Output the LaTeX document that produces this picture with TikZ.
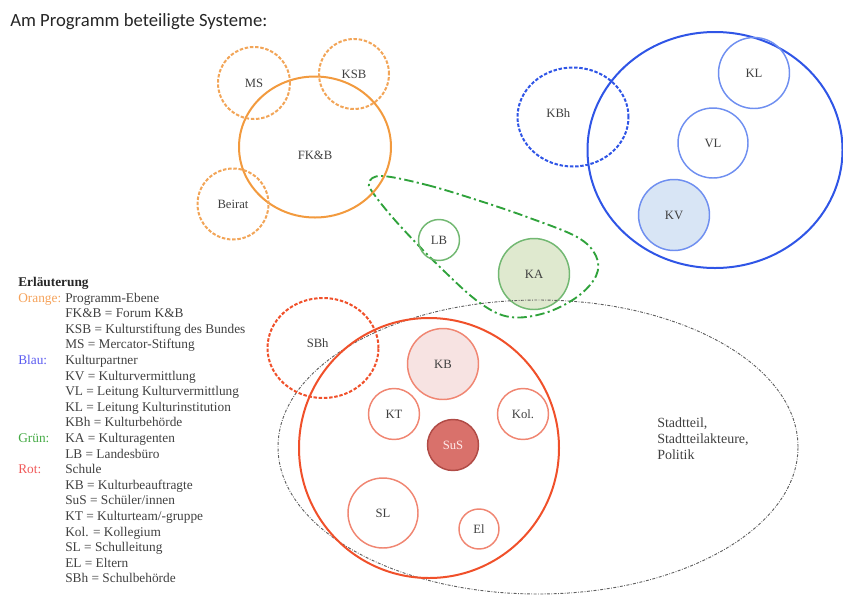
\documentclass[tikz,border=0pt]{standalone}
\usepackage{fontspec}
\setmainfont{Liberation Serif}
\newfontfamily\titlefont{Carlito}
\usetikzlibrary{shapes.geometric}
\definecolor{txt}{HTML}{404040}
\definecolor{orng}{HTML}{F29A3E}
\definecolor{orngd}{HTML}{F2A558}
\definecolor{orngL}{HTML}{F5A25A}
\definecolor{blu}{HTML}{2F55E6}
\definecolor{bluL}{HTML}{6F8FF0}
\definecolor{bluF}{HTML}{D8E5F5}
\definecolor{bluT}{HTML}{5A5AF0}
\definecolor{grn}{HTML}{2FA23B}
\definecolor{grnL}{HTML}{72B872}
\definecolor{grnF}{HTML}{DFE9CF}
\definecolor{grnT}{HTML}{44AA44}
\definecolor{rd}{HTML}{F0502A}
\definecolor{rdL}{HTML}{F08672}
\definecolor{rdF}{HTML}{F7E3E2}
\definecolor{susF}{HTML}{D9716B}
\definecolor{susD}{HTML}{B04B46}
\definecolor{rdT}{HTML}{F05A5A}
\definecolor{gry}{HTML}{606060}
\newcommand\lgitem[2]{\makebox[35.25pt][l]{\textcolor{#1}{#2}}}
\newcommand\lgskip{\hspace*{35.25pt}}
\begin{document}
\begin{tikzpicture}[x=0.75pt,y=-0.75pt,
  lab/.style={font=\fontsize{9.5}{11}\selectfont, text=txt},
  circ/.style={circle, inner sep=0pt, lab},
  ell/.style={ellipse, inner sep=0pt, lab},
  shortdash/.style={dash pattern=on 2.6pt off 1.3pt},
  bigline/.style={line width=1.5pt},
  smallline/.style={line width=1.1pt},
  dashdot/.style={dash pattern=on 7pt off 2.5pt on 1.6pt off 2.5pt},
  greydot/.style={dash pattern=on 2.2pt off 1.1pt on 0.6pt off 1.1pt}
]
\useasboundingbox (0,0) rectangle (843,597);

% title
\node[anchor=north west, inner sep=0pt, font=\titlefont\fontsize{14}{16}\selectfont, text=black!85] (title) at (10,13) {Am Programm beteiligte Systeme:};

% filled circles first
\node[circ, draw=bluL, fill=bluF, smallline, minimum size=53.25pt] (KV) at (674,215) {KV};
\node[circ, draw=grnL, fill=grnF, smallline, minimum size=53.25pt] (KA) at (534,274) {KA};
\node[circ, draw=rdL, fill=rdF, smallline, minimum size=53.25pt] (KB) at (443,364) {KB};
\node[circ, draw=susD, fill=susF, smallline, minimum size=38.25pt, text=white!92!red] (SuS) at (453,445) {SuS};

% grey environment ellipse
\node[ell, draw=gry, line width=0.7pt, greydot, minimum width=390pt, minimum height=220.5pt] (stadtell) at (538,447) {};
\node[anchor=north west, inner sep=0pt, align=left, font=\fontsize{10.5}{12}\selectfont, text=txt] (stadt) at (657,418) {Stadtteil,\\Stadtteilakteure,\\Politik};

% green teardrop
\draw[grn, line width=1.4pt, dashdot] plot[smooth cycle, tension=0.6] coordinates {(382,176) (427,185) (477,200) (527,217) (577,237) (596,256) (596,276) (577,297) (545,313) (510,317) (480,303) (443,270) (402,228) (376,197) (369,183)};
\node[circ, draw=grnL, smallline, minimum size=30.75pt] (LB) at (439,240) {LB};

% orange
\node[ell, draw=orng, bigline, minimum width=114pt, minimum height=105.75pt, label={[lab, yshift=-6pt]center:FK\&B}] (FKB) at (315,147) {};
\node[circ, draw=orngd, bigline, shortdash, minimum size=54pt] (MS) at (254,83) {MS};
\node[circ, draw=orngd, bigline, shortdash, minimum size=52.5pt] (KSB) at (354,74) {KSB};
\node[circ, draw=orngd, bigline, shortdash, minimum size=53.25pt] (Beirat) at (233,204) {Beirat};

% blue
\node[ell, draw=blu, bigline, minimum width=191.25pt, minimum height=177pt] (KP) at (715,150) {};
\node[ell, draw=blu, bigline, shortdash, minimum width=83.25pt, minimum height=74.25pt, label={[lab, xshift=-11pt, yshift=3pt]center:KBh}] (KBh) at (573,117) {};
\node[circ, draw=bluL, smallline, minimum size=53.25pt] (KL) at (754,73) {KL};
\node[circ, draw=bluL, smallline, minimum size=52.5pt] (VL) at (713,143) {VL};

% red
\node[circ, draw=rd, bigline, minimum size=195pt] (Schule) at (429,448) {};
\node[ell, draw=rd, bigline, shortdash, minimum width=83.25pt, minimum height=75pt, label={[lab, xshift=-4pt, yshift=4pt]center:SBh}] (SBh) at (323,348) {};
\node[circ, draw=rdL, smallline, minimum size=38.25pt] (KT) at (394,414) {KT};
\node[circ, draw=rdL, smallline, minimum size=38.25pt] (Kol) at (523,414) {Kol.};
\node[circ, draw=rdL, smallline, minimum size=52.5pt] (SL) at (383,513) {SL};
\node[circ, draw=rdL, smallline, minimum size=30pt] (El) at (479,529) {El};

% legend
\node[anchor=north west, inner sep=0pt, align=left, font=\fontsize{10}{11.7}\selectfont, text=txt] (legend) at (18,277) {%
\textcolor{black!85}{\textbf{Erläuterung}}\\
\lgitem{orngL}{Orange:}Programm-Ebene\\
\lgskip FK\&B = Forum K\&B\\
\lgskip KSB = Kulturstiftung des Bundes\\
\lgskip MS = Mercator-Stiftung\\
\lgitem{bluT}{Blau:}Kulturpartner\\
\lgskip KV = Kulturvermittlung\\
\lgskip VL = Leitung Kulturvermittlung\\
\lgskip KL = Leitung Kulturinstitution\\
\lgskip KBh = Kulturbehörde\\
\lgitem{grnT}{Grün:}KA = Kulturagenten\\
\lgskip LB = Landesbüro\\
\lgitem{rdT}{Rot:}Schule\\
\lgskip KB = Kulturbeauftragte\\
\lgskip SuS = Schüler/innen\\
\lgskip KT = Kulturteam/-gruppe\\
\lgskip Kol. = Kollegium\\
\lgskip SL = Schulleitung\\
\lgskip EL = Eltern\\
\lgskip SBh = Schulbehörde};
\end{tikzpicture}
\end{document}
